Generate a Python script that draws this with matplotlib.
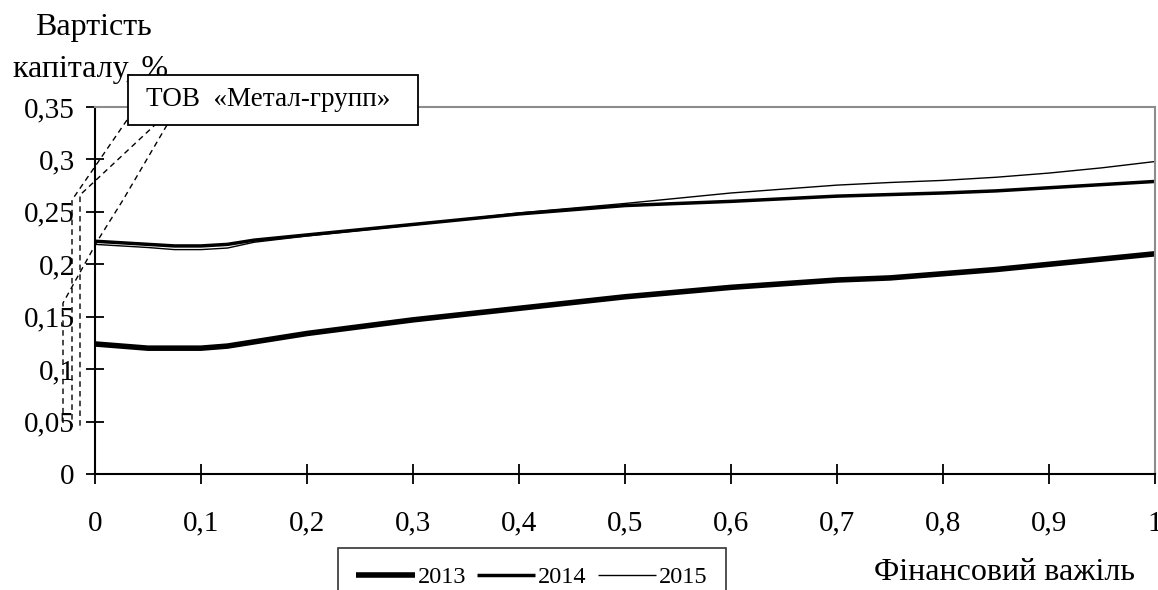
import matplotlib
matplotlib.use("Agg")
import matplotlib.pyplot as plt
from matplotlib.lines import Line2D
from matplotlib.patches import Rectangle
from matplotlib.ticker import FuncFormatter

plt.rcParams['font.family'] = ['Liberation Serif', 'DejaVu Serif']

x = [0, 0.05, 0.075, 0.1, 0.125, 0.15, 0.2, 0.3, 0.4, 0.5, 0.6, 0.7, 0.75, 0.8, 0.85, 0.9, 0.95, 1.0]
y2013 = [0.124, 0.120, 0.120, 0.120, 0.122, 0.126, 0.134, 0.147, 0.158, 0.169, 0.178, 0.185, 0.187, 0.191, 0.195, 0.200, 0.205, 0.210]
y2014 = [0.222, 0.219, 0.2175, 0.2175, 0.219, 0.223, 0.228, 0.238, 0.248, 0.256, 0.260, 0.265, 0.2665, 0.268, 0.270, 0.273, 0.276, 0.279]
y2015 = [0.219, 0.216, 0.214, 0.214, 0.2155, 0.221, 0.227, 0.2375, 0.249, 0.258, 0.268, 0.2755, 0.278, 0.280, 0.283, 0.287, 0.292, 0.298]
years = ['2013', '2014', '2015']
xticks = [0, 0.1, 0.2, 0.3, 0.4, 0.5, 0.6, 0.7, 0.8, 0.9, 1.0]
yticks = [0, 0.05, 0.1, 0.15, 0.2, 0.25, 0.3, 0.35]

W, H = 1158, 590
fig = plt.figure(figsize=(W / 100, H / 100), dpi=100)
ax = fig.add_axes([95 / W, 1 - 474 / H, (1155 - 95) / W, (474 - 107) / H])

ax.plot(x, y2013, color='black', lw=4.0, solid_capstyle='butt', label=years[0])
ax.plot(x, y2014, color='black', lw=2.5, solid_capstyle='butt', label=years[1])
ax.plot(x, y2015, color='black', lw=1.0, solid_capstyle='butt', label=years[2])

ax.set_xlim(0, 1)
ax.set_ylim(0, 0.35)
ax.set_xticks(xticks)
ax.set_yticks(yticks)

def fmt(v, pos):
    s = ('%.2f' % v).rstrip('0').rstrip('.')
    return s.replace('.', ',')

ax.xaxis.set_major_formatter(FuncFormatter(fmt))
ax.yaxis.set_major_formatter(FuncFormatter(fmt))
ax.tick_params(axis='both', direction='inout', width=1.3, labelsize=21, color='black')
ax.tick_params(axis='x', length=15, pad=19)
ax.tick_params(axis='y', length=13, pad=8)
for s in ['left', 'bottom']:
    ax.spines[s].set_linewidth(1.5)
    ax.spines[s].set_color('black')
for s in ['top', 'right']:
    ax.spines[s].set_linewidth(1.5)
    ax.spines[s].set_color('#8c8c8c')

# axis titles
fig.text(35 / W, 1 - 27 / H, 'Вартість', fontsize=23, ha='left', va='center')
fig.text(13 / W, 1 - 70 / H, 'капіталу, %', fontsize=23, ha='left', va='center')
fig.text(1004 / W, 1 - 573 / H, 'Фінансовий важіль', fontsize=23, ha='center', va='center')

# callout with dashed leaders (figure pixel coordinates)
def px(xp, yp):
    return (xp / W, 1 - yp / H)

leaders = [
    [(127, 120), (72, 200), (72, 427)],
    [(157, 123), (80, 195), (80, 430)],
    [(167, 125), (123, 200), (98, 240), (63, 303), (63, 423)],
]
for pts in leaders:
    xs = [p[0] / W for p in pts]
    ys = [1 - p[1] / H for p in pts]
    fig.add_artist(Line2D(xs, ys, transform=fig.transFigure, color='black', lw=1.0,
                          linestyle=(0, (4, 3))))

fig.add_artist(Rectangle(px(128, 125), (418 - 128) / W, 50 / H, transform=fig.transFigure,
                         facecolor='white', edgecolor='black', lw=1.3, zorder=4))
fig.text(268 / W, 1 - 100 / H, 'ТОВ  «Метал-групп»', fontsize=19.5, ha='center', va='center',
         zorder=5)

leg = fig.legend(loc='upper left', bbox_to_anchor=(338 / W, 1 - 548 / H), ncol=3,
                 fontsize=17.5, frameon=True, fancybox=False, edgecolor='black',
                 handlelength=2.4, handletextpad=0.12, columnspacing=0.45,
                 borderpad=0.75, borderaxespad=0)
leg.get_frame().set_linewidth(1.2)

fig.savefig('out.png', dpi=100)
